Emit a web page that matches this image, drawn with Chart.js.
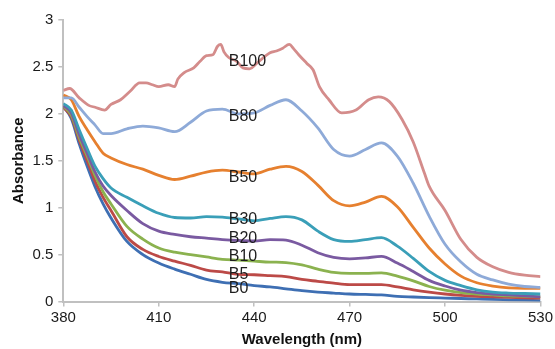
<!DOCTYPE html>
<html>
<head>
<meta charset="utf-8">
<script src="https://cdn.jsdelivr.net/npm/chart.js@4"></script>
<style>
  html, body { margin: 0; padding: 0; background: #fff; }
</style>
</head>
<body>
<canvas id="myChart" width="555" height="349"></canvas>
<script>
/* DATA */

const wavelength = [380, 382.5, 385, 387.5, 390, 392.5, 395, 400, 405, 410, 415, 420, 425, 430, 435, 440,
  445, 450, 455, 460, 465, 470, 475, 480, 485, 490, 495, 500, 505, 510, 515, 520, 525, 530];

const b0 = [2.08, 1.95, 1.68, 1.44, 1.22, 1.04, 0.89, 0.64, 0.50, 0.41, 0.345, 0.29, 0.235, 0.205, 0.19, 0.17,
  0.155, 0.135, 0.115, 0.10, 0.09, 0.08, 0.075, 0.07, 0.055, 0.048, 0.042, 0.037, 0.032, 0.027, 0.022, 0.018, 0.014, 0.01];
const b5 = [2.07, 1.97, 1.72, 1.50, 1.28, 1.11, 0.97, 0.69, 0.555, 0.48, 0.43, 0.385, 0.335, 0.315, 0.29, 0.285,
  0.275, 0.265, 0.235, 0.215, 0.195, 0.18, 0.18, 0.18, 0.155, 0.125, 0.10, 0.08, 0.065, 0.055, 0.05, 0.045, 0.04, 0.035];
const b10 = [2.08, 1.99, 1.75, 1.55, 1.34, 1.17, 1.04, 0.80, 0.665, 0.57, 0.525, 0.50, 0.475, 0.45, 0.44, 0.43,
  0.42, 0.415, 0.39, 0.345, 0.31, 0.30, 0.30, 0.305, 0.27, 0.22, 0.16, 0.12, 0.095, 0.08, 0.07, 0.06, 0.055, 0.05];
const b20 = [2.09, 2.01, 1.78, 1.58, 1.38, 1.23, 1.13, 0.97, 0.83, 0.75, 0.715, 0.69, 0.675, 0.66, 0.65, 0.645,
  0.66, 0.655, 0.60, 0.52, 0.47, 0.455, 0.465, 0.48, 0.41, 0.32, 0.225, 0.165, 0.12, 0.095, 0.08, 0.07, 0.06, 0.05];
const b30 = [2.11, 2.04, 1.83, 1.63, 1.44, 1.31, 1.21, 1.11, 1.02, 0.94, 0.895, 0.89, 0.905, 0.90, 0.88, 0.86,
  0.885, 0.905, 0.87, 0.75, 0.66, 0.64, 0.66, 0.68, 0.59, 0.46, 0.32, 0.225, 0.17, 0.125, 0.10, 0.09, 0.085, 0.08];
const b50 = [2.20, 2.15, 1.97, 1.83, 1.70, 1.58, 1.53, 1.46, 1.41, 1.345, 1.30, 1.335, 1.38, 1.40, 1.38, 1.36,
  1.41, 1.44, 1.385, 1.24, 1.075, 1.02, 1.06, 1.12, 1.01, 0.79, 0.57, 0.40, 0.27, 0.20, 0.165, 0.145, 0.14, 0.14];
const b80 = [2.17, 2.17, 2.07, 1.97, 1.88, 1.79, 1.79, 1.84, 1.87, 1.85, 1.81, 1.91, 2.03, 2.05, 2.00, 2.01,
  2.09, 2.15, 2.03, 1.85, 1.62, 1.55, 1.62, 1.69, 1.55, 1.26, 0.91, 0.61, 0.42, 0.29, 0.23, 0.185, 0.16, 0.15];

// B100 is noisy, so it gets its own (denser) wavelength list
const wavelengthB100 = [380, 382, 385, 388, 390, 393, 395, 398, 401, 404, 406, 408, 410, 413, 415, 416, 418, 421,
  423, 425, 427, 428.5, 429.5, 430.5, 432, 434.5, 436.5, 438.5, 441.5, 445, 447, 449, 451, 452.5, 454, 456.5,
  458.5, 460.5, 463.5, 467.5, 472, 476, 479, 482.5, 486.5, 490, 493.5, 495, 500, 505, 510, 515, 520, 525, 530];
const b100 = [2.25, 2.27, 2.17, 2.09, 2.07, 2.04, 2.10, 2.15, 2.24, 2.33, 2.33, 2.31, 2.29, 2.31, 2.29, 2.37, 2.44, 2.49,
  2.56, 2.62, 2.63, 2.72, 2.74, 2.66, 2.60, 2.56, 2.49, 2.48, 2.56, 2.65, 2.67, 2.70, 2.74, 2.69, 2.63, 2.54,
  2.47, 2.29, 2.15, 2.01, 2.04, 2.15, 2.18, 2.13, 1.94, 1.70, 1.37, 1.23, 0.97, 0.66, 0.47, 0.37, 0.31, 0.28, 0.265];

const seriesNames = ['B0', 'B5', 'B10', 'B20', 'B30', 'B50', 'B80', 'B100'];
const seriesColors = ['#3E6FB3', '#BC4A47', '#8BB24F', '#7A5AA1', '#3A9FB8', '#E6802F', '#8EAAD8', '#D48C8B'];

// where the series names sit (nm, absorbance)
const labelNm = 432;
const labelAbs = [0.137, 0.286, 0.475, 0.671, 0.876, 1.325, 1.966, 2.553];

/* BUILD DATASETS */

function toPoints(xs, ys) {
  return xs.map((x, i) => ({ x: x, y: ys[i] }));
}

const allSeries = [b0, b5, b10, b20, b30, b50, b80, b100];
const datasets = allSeries.map((values, i) => {
  const xs = i === 7 ? wavelengthB100 : wavelength;
  return {
    label: seriesNames[i],
    data: toPoints(xs, values),
    borderColor: seriesColors[i],
    backgroundColor: seriesColors[i],
    borderWidth: 2.8,
    pointRadius: 0,
    cubicInterpolationMode: 'monotone',
    order: 8 - i
  };
});

/* SERIES NAME TEXT ON THE PLOT */

const seriesLabels = {
  id: 'seriesLabels',
  afterDatasetsDraw(chart) {
    const ctx = chart.ctx;
    const x = chart.scales.x;
    const y = chart.scales.y;
    ctx.save();
    ctx.font = '16px "Liberation Sans", Arial, sans-serif';
    ctx.fillStyle = '#1e1e1e';
    ctx.textBaseline = 'middle';
    ctx.textAlign = 'left';
    seriesNames.forEach((name, i) => {
      ctx.fillText(name, x.getPixelForValue(labelNm), y.getPixelForValue(labelAbs[i]));
    });
    ctx.restore();
  }
};

/* CREATE CHART */

const axisGray = '#c0c0c0';
const tickFont = { family: '"Liberation Sans", Arial, sans-serif', size: 15 };
const titleFont = { family: '"Liberation Sans", Arial, sans-serif', size: 15, weight: 'bold' };

const ctx = document.getElementById('myChart').getContext('2d');
const myChart = new Chart(ctx, {
  type: 'line',
  data: { datasets: datasets },
  options: {
    responsive: false,
    animation: false,
    layout: { padding: { top: 20, right: 13, left: 0, bottom: 0 } },
    plugins: { legend: { display: false }, tooltip: { enabled: false } },
    scales: {
      x: {
        type: 'linear',
        min: 380,
        max: 530,
        ticks: { stepSize: 30, font: tickFont, color: '#1a1a1a', padding: 2, maxRotation: 0 },
        grid: { drawOnChartArea: false, drawTicks: true, tickLength: 5, color: axisGray, lineWidth: 1.5 },
        border: { color: axisGray, width: 2 },
        title: { display: true, text: 'Wavelength (nm)', font: titleFont, color: '#111', padding: { top: 0, bottom: 0 } },
        afterFit(scale) { scale.height = 47.5; }
      },
      y: {
        min: 0,
        max: 3,
        ticks: {
          stepSize: 0.5, font: tickFont, color: '#1a1a1a', padding: 5,
          callback: value => String(value)
        },
        grid: { drawOnChartArea: false, drawTicks: true, tickLength: 5, color: axisGray, lineWidth: 1.5 },
        border: { color: axisGray, width: 2 },
        title: { display: true, text: 'Absorbance', font: titleFont, color: '#111', padding: { top: 10, bottom: 0 } },
        afterFit(scale) { scale.width = 63.3; }
      }
    }
  },
  plugins: [seriesLabels]
});
</script>
</body>
</html>
